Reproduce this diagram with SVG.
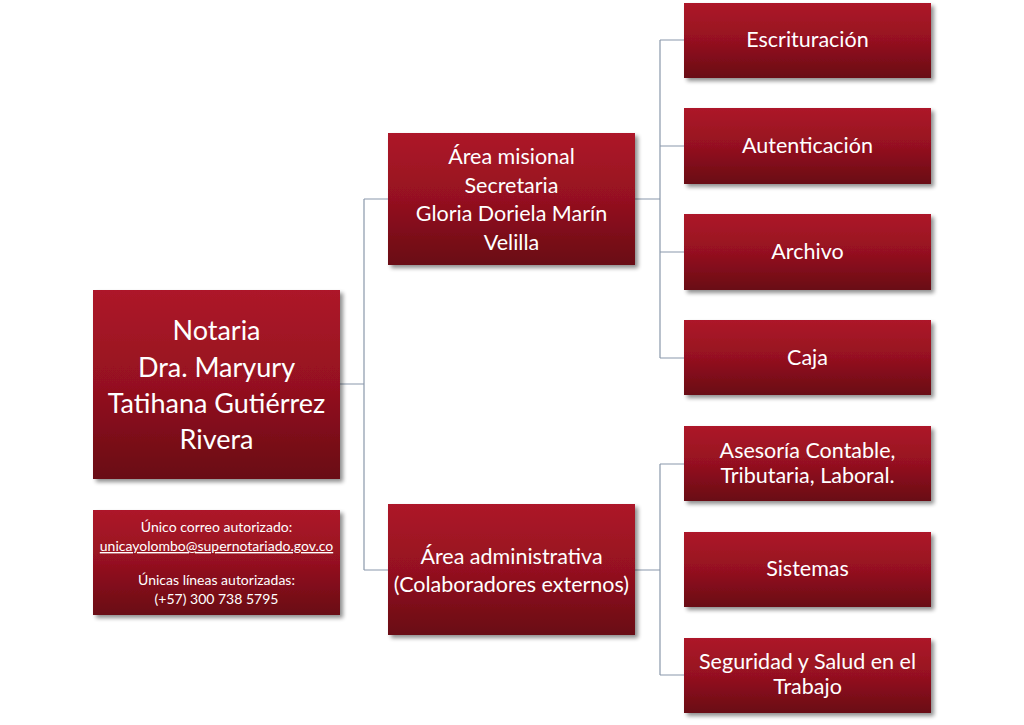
<svg xmlns="http://www.w3.org/2000/svg" width="1024" height="725" viewBox="0 0 1024 725">
<defs>
<linearGradient id="g" x1="0" y1="0" x2="0" y2="1">
<stop offset="0" stop-color="#AD1629"/>
<stop offset="0.5" stop-color="#951120"/>
<stop offset="1" stop-color="#690814"/>
</linearGradient>
<filter id="sh" x="-10%" y="-10%" width="125%" height="130%">
<feGaussianBlur in="SourceAlpha" stdDeviation="2"/>
<feOffset dx="3" dy="3" result="b"/>
<feComponentTransfer><feFuncA type="linear" slope="0.45"/></feComponentTransfer>
<feMerge><feMergeNode/><feMergeNode in="SourceGraphic"/></feMerge>
</filter>
</defs>
<style>
.box{fill:url(#g);filter:url(#sh)}
.t{font-family:Lato,"Open Sans",sans-serif;fill:#fff;text-anchor:middle}
.big{font-size:27px}
.mid{font-size:21.5px}
.sm{font-size:14px}
.c{stroke:#8A98AB;stroke-width:1.2;fill:none}
</style>
<rect width="1024" height="725" fill="#fff"/>
<g id="connectors">
<path class="c" d="M340 384H364M364 199V570M364 199H388M364 570H388"/>
<path class="c" d="M635 199H660M660 40V358M660 40H684M660 146H684M660 252H684M660 358H684"/>
<path class="c" d="M635 570H660M660 464V675M660 464H684M660 675H684"/>
</g>
<g id="root">
<rect class="box" x="93" y="290" width="247" height="189"/>
<text class="t big" x="216.5" y="340">Notaria</text>
<text class="t big" x="216.5" y="377">Dra. Maryury</text>
<text class="t big" x="216.5" y="413">Tatihana Gutiérrez</text>
<text class="t big" x="216.5" y="449">Rivera</text>
</g>
<g id="info">
<rect class="box" x="93" y="510" width="247" height="105"/>
<text class="t sm" x="216.5" y="532">Único correo autorizado:</text>
<text class="t sm" x="216.5" y="551" text-decoration="underline">unicayolombo@supernotariado.gov.co</text>
<text class="t sm" x="216.5" y="585">Únicas líneas autorizadas:</text>
<text class="t sm" x="216.5" y="604">(+57) 300 738 5795</text>
</g>
<g id="area-misional">
<rect class="box" x="388" y="133" width="247" height="132"/>
<text class="t mid" x="511.5" y="164">Área misional</text>
<text class="t mid" x="511.5" y="193">Secretaria</text>
<text class="t mid" x="511.5" y="221">Gloria Doriela Marín</text>
<text class="t mid" x="511.5" y="250">Velilla</text>
</g>
<g id="area-administrativa">
<rect class="box" x="388" y="504" width="247" height="131"/>
<text class="t mid" x="511.5" y="564">Área administrativa</text>
<text class="t mid" x="511.5" y="592">(Colaboradores externos)</text>
</g>
<g id="escrituracion">
<rect class="box" x="684" y="3" width="247" height="75"/>
<text class="t mid" x="807.5" y="47">Escrituración</text>
</g>
<g id="autenticacion">
<rect class="box" x="684" y="108" width="247" height="76"/>
<text class="t mid" x="807.5" y="153">Autenticación</text>
</g>
<g id="archivo">
<rect class="box" x="684" y="214" width="247" height="76"/>
<text class="t mid" x="807.5" y="259">Archivo</text>
</g>
<g id="caja">
<rect class="box" x="684" y="320" width="247" height="75"/>
<text class="t mid" x="807.5" y="365">Caja</text>
</g>
<g id="asesoria">
<rect class="box" x="684" y="426" width="247" height="75"/>
<text class="t mid" x="807.5" y="458">Asesoría Contable,</text>
<text class="t mid" x="807.5" y="483">Tributaria, Laboral.</text>
</g>
<g id="sistemas">
<rect class="box" x="684" y="532" width="247" height="75"/>
<text class="t mid" x="807.5" y="576">Sistemas</text>
</g>
<g id="seguridad">
<rect class="box" x="684" y="638" width="247" height="75"/>
<text class="t mid" x="807.5" y="669">Seguridad y Salud en el</text>
<text class="t mid" x="807.5" y="694">Trabajo</text>
</g>
</svg>
